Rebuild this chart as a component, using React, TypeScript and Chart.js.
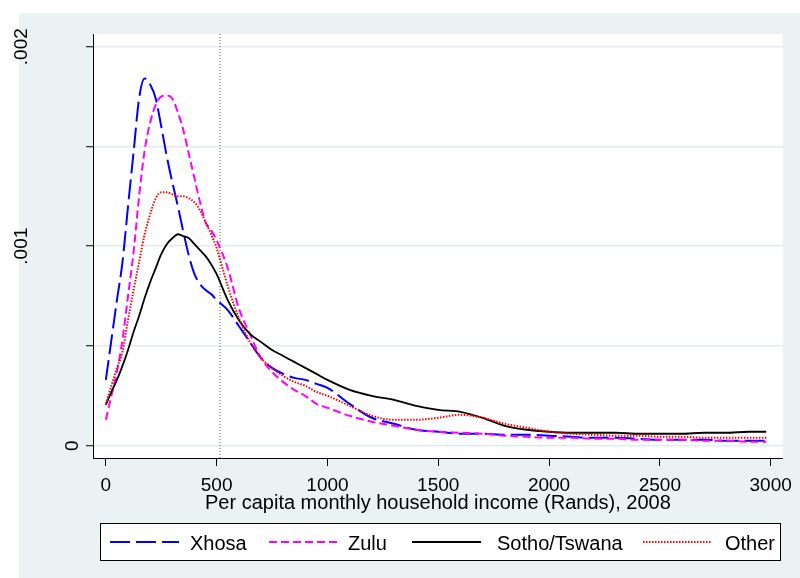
import React, { useEffect, useRef } from "react";
import { Chart, registerables } from "chart.js";

Chart.register(...registerables);

// ---------------- data ----------------
const income = [
  0, 25, 50, 75, 100, 125, 150, 175, 200, 225, 250, 275, 300, 325, 350, 375, 400, 425, 450, 475,
  500, 550, 600, 650, 700, 750, 800, 850, 900, 950, 1000, 1100, 1200, 1300, 1400, 1500, 1600,
  1700, 1800, 1900, 2000, 2100, 2200, 2300, 2400, 2500, 2600, 2700, 2800, 2900, 2980,
];

const xhosa = [
  0.00033, 0.00053, 0.00073, 0.00092, 0.0012, 0.00147, 0.00174, 0.00184, 0.00181, 0.00174,
  0.0016, 0.00145, 0.00132, 0.0012, 0.00107, 0.00095, 0.00086, 0.00081, 0.00078, 0.00076,
  0.00073, 0.00068, 0.0006, 0.00052, 0.00044, 0.00039, 0.00036, 0.00034, 0.00033, 0.00031,
  0.00029, 0.00021, 0.00014, 0.00011, 0.00008, 0.00007, 0.00006, 0.00006, 0.000055, 0.000055,
  0.00005, 0.000045, 0.00004, 0.00004, 0.000035, 0.00003, 0.00003, 0.00003, 0.000025, 0.000025,
  0.000025,
];

const zulu = [
  0.00013, 0.00025, 0.00037, 0.00053, 0.00075, 0.00097, 0.00125, 0.00148, 0.00162, 0.00171,
  0.00175, 0.001755, 0.00174, 0.00167, 0.00158, 0.00146, 0.00134, 0.00122, 0.00112, 0.00108,
  0.00103, 0.00089, 0.00069, 0.00056, 0.00044, 0.00037, 0.00032, 0.00028, 0.00025, 0.00021,
  0.00019, 0.00015, 0.00012, 0.0001, 0.00008, 0.00007, 0.000065, 0.00006, 0.00005, 0.000045,
  0.00004, 0.00004, 0.000035, 0.000035, 0.00003, 0.00003, 0.00003, 0.000025, 0.000025, 0.00002,
  0.00002,
];

const sotho = [
  0.000205, 0.00027, 0.00033, 0.0004, 0.00048, 0.00057, 0.00065, 0.00074, 0.00082, 0.00089,
  0.00096, 0.00101, 0.00104, 0.00106, 0.00105, 0.00104, 0.00101, 0.00098, 0.00095, 0.00091,
  0.00086, 0.00073, 0.00063, 0.00056, 0.00052, 0.00048, 0.00045, 0.00042, 0.00039, 0.00036,
  0.00033, 0.00028, 0.00025, 0.00023, 0.0002, 0.00018, 0.00017, 0.00014, 0.0001, 0.00008,
  0.00007, 0.000065, 0.000065, 0.000065, 0.00006, 0.00006, 0.00006, 0.000065, 0.000065, 0.00007,
  0.00007,
];

const other = [
  0.00021, 0.0003, 0.00039, 0.00047, 0.00063, 0.00078, 0.00092, 0.00106, 0.00116, 0.00124,
  0.00127, 0.00127, 0.00126, 0.00125, 0.00125, 0.00124, 0.00122, 0.00118, 0.00112, 0.00106,
  0.00099, 0.0008, 0.00064, 0.00052, 0.00044, 0.00039, 0.00035, 0.00032, 0.0003, 0.00027,
  0.00025, 0.0002, 0.00015, 0.00013, 0.00013, 0.00014, 0.000155, 0.00014, 0.00011, 0.00009,
  0.00007, 0.00006, 0.000055, 0.00005, 0.00005, 0.000045, 0.000045, 0.00004, 0.00004, 0.00004,
  0.00004,
];

const seriesNames = ["Xhosa", "Zulu", "Sotho/Tswana", "Other"];
const xTickValues = [0, 500, 1000, 1500, 2000, 2500, 3000];
const yGridValues = [0, 0.0005, 0.001, 0.0015, 0.002];
const yLabelValues = [0, 0.001, 0.002];
const povertyLine = 515;
const xTitle = "Per capita monthly household income (Rands), 2008";

const X_MIN = -58;
const X_MAX = 3055;
const Y_MIN = -0.0000616;
const Y_MAX = 0.0020636;

// ---------------- styles ----------------
const FONT = '"Liberation Sans", Arial, sans-serif';
const styles = [
  { color: "#0000FF", dash: [20, 6], width: 2 },
  { color: "#FF00FF", dash: [8, 4], width: 2 },
  { color: "#000000", dash: [] as number[], width: 1.8 },
  { color: "#FF0000", dash: [1.5, 1.5], width: 2 },
];

const toPoints = (ys: number[]) => income.map((x, i) => ({ x, y: ys[i] }));

const fmtY = (v: number) => (v === 0 ? "0" : String(v).replace(/^0/, ""));

const decorPlugin = {
  id: "decor",
  beforeDraw(chart: any) {
    const { ctx, width, height } = chart;
    const { left, top, right, bottom } = chart.chartArea;
    ctx.save();
    ctx.fillStyle = "#ffffff";
    ctx.fillRect(0, 0, width, height);
    ctx.fillStyle = "#EAF2F3";
    ctx.fillRect(19, 13, width - 19, height - 13);
    ctx.fillStyle = "#ffffff";
    ctx.fillRect(left, top, right - left, bottom - top);
    ctx.restore();
  },
  afterDraw(chart: any) {
    const { ctx } = chart;
    const ys = chart.scales.y;
    ctx.save();
    ctx.fillStyle = "#000";
    ctx.font = `19px ${FONT}`;
    for (const v of yLabelValues) {
      const py = ys.getPixelForValue(v);
      const label = fmtY(v);
      const bx = label.length > 1 ? 27 : 78;
      ctx.save();
      ctx.translate(bx, py);
      ctx.rotate(-Math.PI / 2);
      ctx.textAlign = "center";
      ctx.textBaseline = "alphabetic";
      ctx.fillText(label, 0, 0);
      ctx.restore();
    }
    // legend
    ctx.font = `20px ${FONT}`;
    ctx.fillStyle = "#fff";
    ctx.fillRect(100.5, 523.5, 680, 37);
    ctx.strokeStyle = "#000";
    ctx.lineWidth = 1;
    ctx.strokeRect(100.5, 523.5, 680, 37);
    const sampleX = [110, 269, 412, 643];
    const textX = [190, 348, 497, 725];
    const ly = 542;
    seriesNames.forEach((name, i) => {
      const s = styles[i];
      ctx.save();
      ctx.strokeStyle = s.color;
      ctx.lineWidth = s.width;
      ctx.setLineDash(s.dash);
      ctx.beginPath();
      ctx.moveTo(sampleX[i], ly);
      ctx.lineTo(sampleX[i] + 69, ly);
      ctx.stroke();
      ctx.restore();
      ctx.fillStyle = "#000";
      ctx.textAlign = "left";
      ctx.textBaseline = "alphabetic";
      ctx.fillText(name, textX[i], 550);
    });
    ctx.restore();
  },
};

export default function App() {
  const ref = useRef<HTMLCanvasElement>(null);

  useEffect(() => {
    const series = [xhosa, zulu, sotho, other];
    const datasets: any[] = series.map((ys, i) => ({
      label: seriesNames[i],
      data: toPoints(ys),
      borderColor: styles[i].color,
      borderWidth: styles[i].width,
      borderDash: styles[i].dash,
      pointRadius: 0,
      fill: false,
      cubicInterpolationMode: "monotone",
      order: 4 - i,
    }));
    datasets.push({
      label: "line",
      data: [
        { x: povertyLine, y: Y_MIN },
        { x: povertyLine, y: Y_MAX },
      ],
      borderColor: "#555555",
      borderWidth: 1,
      borderDash: [1, 2],
      pointRadius: 0,
      fill: false,
      order: 10,
    });

    const chart = new Chart(ref.current as HTMLCanvasElement, {
      type: "line",
      data: { datasets },
      plugins: [decorPlugin],
      options: {
        animation: false,
        responsive: false,
        devicePixelRatio: 1,
        layout: { padding: { left: 0, top: 34, right: 12, bottom: 0 } },
        plugins: { legend: { display: false }, tooltip: { enabled: false } },
        scales: {
          x: {
            type: "linear",
            min: X_MIN,
            max: X_MAX,
            afterBuildTicks: (s: any) => {
              s.ticks = xTickValues.map((v) => ({ value: v }));
            },
            afterFit: (s: any) => {
              s.height = 120;
            },
            grid: {
              drawOnChartArea: false,
              drawTicks: true,
              tickLength: 8,
              tickColor: "#000",
              tickWidth: 1,
            },
            border: { display: true, color: "#000", width: 1 },
            ticks: {
              color: "#000",
              font: { size: 19, family: FONT },
              padding: 8,
              maxRotation: 0,
              callback: (v: any) => String(v),
            },
            title: {
              display: true,
              text: xTitle,
              color: "#000",
              font: { size: 20, family: FONT },
              padding: { top: 0, bottom: 63 },
            },
          },
          y: {
            type: "linear",
            min: Y_MIN,
            max: Y_MAX,
            afterBuildTicks: (s: any) => {
              s.ticks = yGridValues.map((v) => ({ value: v }));
            },
            afterFit: (s: any) => {
              s.width = 93;
            },
            grid: {
              color: "#E2EBEF",
              lineWidth: 1.5,
              drawTicks: true,
              tickLength: 7,
              tickColor: "#000",
              tickWidth: 1,
            },
            border: { display: true, color: "#000", width: 1 },
            ticks: { display: false },
          },
        },
      },
    } as any);
    return () => chart.destroy();
  }, []);

  return (
    <div style={{ position: "fixed", left: 0, top: 0, width: 800, height: 578 }}>
      <canvas ref={ref} width={800} height={578} style={{ display: "block", width: 800, height: 578 }} />
    </div>
  );
}
